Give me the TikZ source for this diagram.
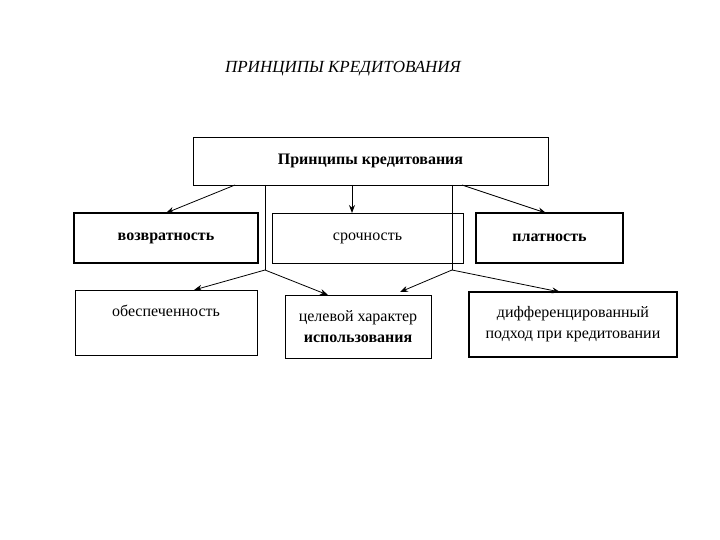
\documentclass[tikz,border=0pt]{standalone}
\usepackage{fontspec}
\setmainfont{Liberation Serif}
\usetikzlibrary{arrows.meta}
\begin{document}
\begin{tikzpicture}[x=1pt,y=-1pt,
  bx/.style={draw,line width=0.8pt,inner sep=0pt,font=\fontsize{16}{21}\selectfont},
  thick/.style={line width=1.3pt},
  ar/.style={draw,line width=0.8pt,-{Stealth[length=8pt,width=6pt]}}]
\useasboundingbox (0,0) rectangle (720,540);
\node[font=\itshape\fontsize{17}{19}\selectfont] (t) at (343,69) {ПРИНЦИПЫ КРЕДИТОВАНИЯ};
\node[bx,minimum width=355,minimum height=48] (top) at (370.5,161) {\textbf{Принципы кредитования}};
\node[bx,thick,minimum width=184,minimum height=50] (b1) at (166,238) {\textbf{возвратность}};
\node[bx,minimum width=191,minimum height=50] (b2) at (367.5,238) {срочность};
\node[bx,thick,minimum width=147,minimum height=50] (b3) at (549.5,238) {\textbf{платность}};
\node[bx,minimum width=182,minimum height=65,text depth=24pt] (c1) at (166,322.5) {обеспеченность};
\node[bx,minimum width=146,minimum height=63,align=center] (c2) at (358,326.5) {целевой характер\\ \textbf{использования}};
\node[bx,thick,minimum width=208,minimum height=65,align=center] (c3) at (573,324.5) {дифференцированный\\подход при кредитовании};
\coordinate (j1) at (265,270);
\coordinate (j2) at (452,270);
\draw[line width=0.8pt] (265,185) -- (j1);
\draw[line width=0.8pt] (452,185) -- (j2);
\draw[ar] (235,185) -- (166,213);
\draw[ar] (352,185) -- (352,213);
\draw[ar] (462,185) -- (546,213);
\draw[ar] (j1) -- (194,290);
\draw[ar] (j1) -- (328,295);
\draw[ar] (j2) -- (400,292);
\draw[ar] (j2) -- (560,292);
\end{tikzpicture}
\end{document}
